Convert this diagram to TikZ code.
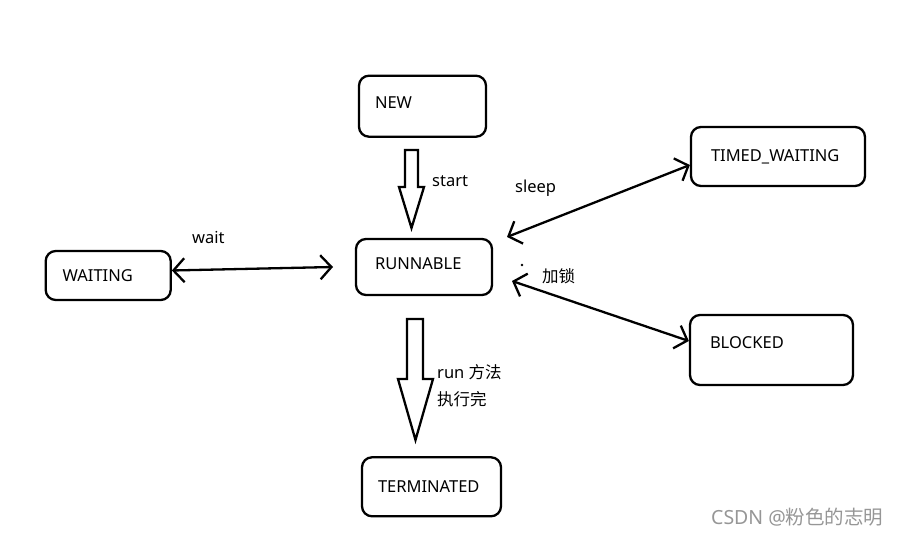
\documentclass[tikz,border=0pt]{standalone}
\usepackage{fontspec}
\setmainfont{Noto Sans}
\newfontfamily\cjk{Noto Sans CJK SC}
\usepackage{tikz}
\usetikzlibrary{arrows.meta,positioning}
\definecolor{wmgray}{RGB}{150,150,150}
\tikzstyle{state} = [rectangle, draw=black, line width=2.3pt, rounded corners=10pt, align=left, font=\fontsize{16.5}{19}\selectfont]
\tikzstyle{textonly} = [draw=none, fill=none, anchor=west, inner sep=0pt, font=\fontsize{16.5}{19}\selectfont]
\tikzstyle{tedge}  = [draw, line width=2.3pt, >={Straight Barb[length=11pt,width=24pt]}, <->]
\tikzstyle{bigarrow} = [draw, line width=2.3pt, fill=white, line join=miter]

\begin{document}
\begin{tikzpicture}[x=1pt, y=-1pt]
\useasboundingbox (0,0) rectangle (898,537);

% states =============================
\node[state, minimum width=136pt, minimum height=56pt, text width=98pt, text depth=6pt] (runnable) at (424,267) {RUNNABLE};
\node[state, minimum width=127pt, minimum height=61pt, text width=95pt, text depth=7pt, above=100pt of runnable, xshift=-1.5pt] (new) {NEW};
\node[state, minimum width=139pt, minimum height=59pt, text width=107pt, below=160pt of runnable, xshift=7.5pt] (terminated) {TERMINATED};
\node[state, minimum width=125pt, minimum height=49pt, text width=91pt, left=183pt of runnable, yshift=-8.5pt] (waiting) {WAITING};
\node[state, minimum width=174pt, minimum height=59pt, text width=134pt] (timed) at (778,156.5) {TIMED\_WAITING};
\node[state, minimum width=163pt, minimum height=70pt, text width=123pt, text depth=14pt] (blocked) at (771.5,350) {BLOCKED};

% labels
\node[textonly] (start) at (432,181) {start};
\node[textonly] (sleep) at (515,188) {sleep};
\node[textonly] (wait) at (192,238) {wait};
\node[textonly] (lock) at (542,276) {\cjk 加锁};
\node[textonly] (run1) at (437,372) {run {\cjk 方法}};
\node[textonly] (run2) at (437,399) {\cjk 执行完};
\node[textonly, text=wmgray, font=\fontsize{19.5}{22}\selectfont] (mark) at (711,517) {CSDN @{\cjk 粉色的志明}};
\fill (522,265) circle (1.3pt);

% free ends
\coordinate (waitend) at (333,267);
\coordinate (sleepend) at (507,237);
\coordinate (lockend) at (512,281);

% edges
\path[bigarrow] (405,150) -- (418,150) -- (418,187) -- (424,187) -- (411.5,228) -- (399,187) -- (405,187) -- cycle;
\path[bigarrow] (407,319) -- (423,319) -- (423,379) -- (433,379) -- (415.5,440) -- (398,379) -- (407,379) -- cycle;
\path[tedge] ([yshift=5pt]waiting.east) -- (waitend);
\path[tedge] (sleepend) -- ([yshift=-8.5pt]timed.west);
\path[tedge] (lockend) -- ([yshift=9pt]blocked.west);

\end{tikzpicture}
\end{document}
